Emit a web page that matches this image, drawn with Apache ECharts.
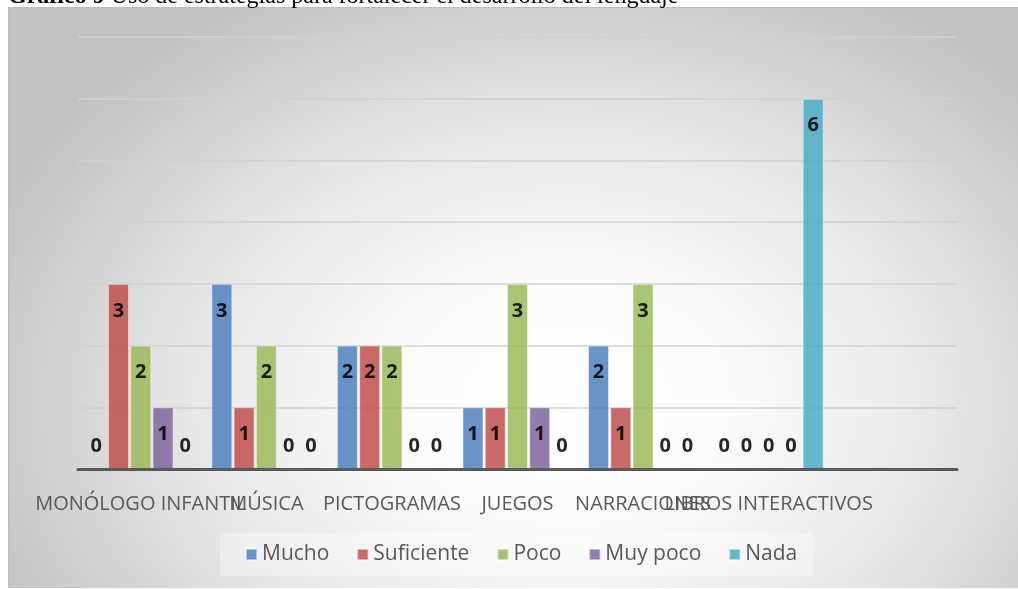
<!DOCTYPE html>
<html>
<head>
<meta charset="utf-8">
<script src="https://cdn.jsdelivr.net/npm/echarts@6/dist/echarts.min.js"></script>
<style>
  html, body { margin: 0; padding: 0; background: #ffffff; }
  #wrap { position: relative; width: 1018px; height: 589px; overflow: hidden; }
  #bg { position: absolute; left: 8px; top: 7px; width: 1012px; height: 580px;
        border-left: 1px solid #bdbdbd; border-top: 1px solid #bdbdbd;
        background: radial-gradient(ellipse 62% 80% at 55% 68%, #ffffff 0%, #fcfcfc 25%, #e8e8e8 58%, #c2c2c2 100%); }
  #chart { position: absolute; left: 0; top: 0; width: 1018px; height: 589px; }
</style>
</head>
<body>
<div id="wrap">
  <div id="bg"></div>
  <div id="chart"></div>
</div>
<script>
const categories = ['MONÓLOGO INFANTIL', 'MÚSICA', 'PICTOGRAMAS', 'JUEGOS', 'NARRACIONES', 'LIBROS INTERACTIVOS', ''];
const seriesNames = ['Mucho', 'Suficiente', 'Poco', 'Muy poco', 'Nada'];
const mucho      = [0, 3, 2, 1, 2, 0];
const suficiente = [3, 1, 2, 1, 1, 0];
const poco       = [2, 2, 2, 3, 3, 0];
const muyPoco    = [1, 0, 0, 1, 0, 0];
const nada       = [0, 0, 0, 0, 0, 6];
const colors = ['#4F81BD', '#C0504D', '#9BBB59', '#8064A2', '#4BACC6'];

const seriesValues = [mucho, suficiente, poco, muyPoco, nada];

const labelBase = { show: true, color: '#000000', fontFamily: 'Open Sans', fontWeight: 'bold', fontSize: 20 };

function makeData(values) {
  return values.map(v => (v === 0
    ? { value: v, itemStyle: { borderWidth: 0, borderColor: 'transparent' },
        label: Object.assign({}, labelBase, { position: 'top', distance: 13 }) }
    : { value: v,
        label: Object.assign({}, labelBase, { position: 'insideTop', distance: 17 }) }));
}

const chart = echarts.init(document.getElementById('chart'), null, { renderer: 'canvas' });
chart.setOption({
  backgroundColor: 'transparent',
  animation: false,
  title: {
    text: '{b|Gráfico 9} Uso de estrategias para fortalecer el desarrollo del lenguaje',
    left: 8,
    top: -15,
    padding: 0,
    textStyle: {
      fontFamily: 'Liberation Serif',
      fontSize: 24,
      fontWeight: 'normal',
      color: '#000000',
      rich: { b: { fontFamily: 'Liberation Serif', fontSize: 24, fontWeight: 'bold', color: '#000000' } }
    }
  },
  legend: {
    data: seriesNames,
    left: 220,
    top: 533,
    itemWidth: 11,
    itemHeight: 11,
    itemGap: 27,
    padding: [11, 17, 11, 25],
    backgroundColor: 'rgba(255,255,255,0.35)',
    icon: 'rect',
    textStyle: { fontFamily: 'Open Sans', fontSize: 21, color: '#595959' }
  },
  grid: { left: 78, right: 61, top: 37, bottom: 120, containLabel: false },
  xAxis: {
    type: 'category',
    data: categories,
    z: 5,
    axisTick: { show: false },
    axisLine: { show: true, lineStyle: { color: '#595959', width: 3 } },
    axisLabel: { interval: 0, fontFamily: 'Open Sans', fontSize: 20, color: '#595959', margin: 25, hideOverlap: false },
    splitLine: { show: false }
  },
  yAxis: {
    type: 'value',
    min: 0,
    max: 7,
    interval: 1,
    axisLabel: { show: false },
    axisLine: { show: false },
    axisTick: { show: false },
    splitLine: { show: true, lineStyle: { color: '#d0d0d0', width: 1.5 } }
  },
  series: seriesNames.map((name, i) => ({
    name: name,
    type: 'bar',
    barWidth: 21,
    barGap: '6%',
    data: makeData(seriesValues[i]),
    itemStyle: { color: colors[i], opacity: 0.85, borderColor: 'rgba(255,255,255,0.55)', borderWidth: 1 }
  }))
});
</script>
</body>
</html>
